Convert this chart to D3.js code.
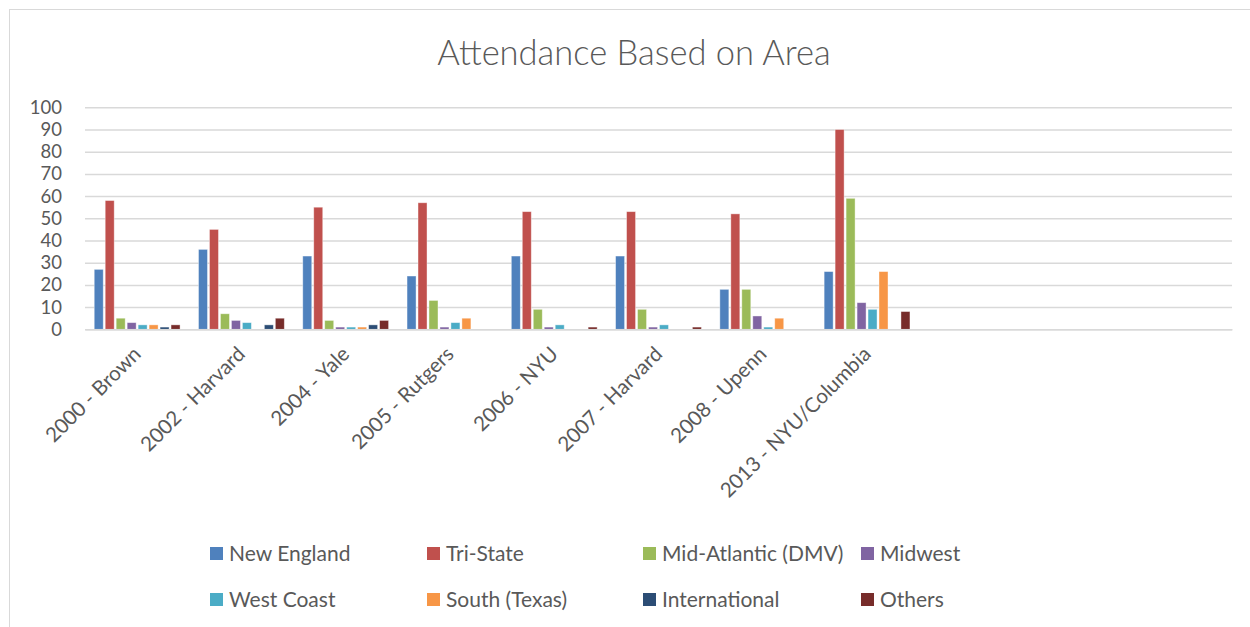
<!DOCTYPE html>
<html><head><meta charset="utf-8">
<script src="https://cdn.jsdelivr.net/npm/d3@7"></script>
<style>body{margin:0;background:#fff}svg{display:block}</style>
</head><body>
<svg id="c" width="1250" height="627"></svg>
<script>
const title = "Attendance Based on Area";
const categories = ["2000 - Brown","2002 - Harvard","2004 - Yale","2005 - Rutgers","2006 - NYU","2007 - Harvard","2008 - Upenn","2013 - NYU/Columbia","","",""];
const seriesNames = ["New England","Tri-State","Mid-Atlantic (DMV)","Midwest","West Coast","South (Texas)","International","Others"];
const seriesColors = ["#4F81BD","#C0504D","#9BBB59","#8064A2","#4BACC6","#F79646","#2C4D75","#772C2A"];
const newEngland  = [27,36,33,24,33,33,18,26];
const triState    = [58,45,55,57,53,53,52,90];
const midAtlantic = [5,7,4,13,9,9,18,59];
const midwest     = [3,4,1,1,1,1,6,12];
const westCoast   = [2,3,1,3,2,2,1,9];
const south       = [2,0,1,5,0,0,5,26];
const international = [1,2,2,0,0,0,0,0];
const others      = [2,5,4,0,1,1,0,8];
const seriesValues = [newEngland,triState,midAtlantic,midwest,westCoast,south,international,others];
const yTicks = [0,10,20,30,40,50,60,70,80,90,100];

const svg = d3.select("#c");
const font = "Lato, 'Open Sans', sans-serif";
const txt = "#595959";

// chart border
svg.append("rect").attr("x",9.5).attr("y",9.5).attr("width",1300).attr("height",700)
  .attr("fill","none").attr("stroke","#d9d9d9").attr("stroke-width",1);

const L = 85, R = 1232, T = 107.3, B = 329.3;
const x0 = d3.scaleBand().domain(d3.range(categories.length)).range([L,R]).paddingInner(0).paddingOuter(0);
const groupFrac = 8/9.5;
const x1 = d3.scaleBand().domain(d3.range(seriesNames.length))
  .range([0, x0.bandwidth()*groupFrac]).paddingInner(0.18).paddingOuter(0.09);
const y = d3.scaleLinear().domain([0,100]).range([B,T]);

// gridlines
const yAxis = d3.axisLeft(y).tickValues(yTicks).tickSize(-(R-L)).tickFormat(d3.format("d"));
const gy = svg.append("g").attr("transform",`translate(${L},0)`).call(yAxis);
gy.select(".domain").remove();
gy.selectAll(".tick line").attr("stroke","#d9d9d9").attr("stroke-width",1.5);
gy.selectAll(".tick text").attr("x",-23).attr("fill",txt)
  .style("font-family",font).style("font-size","18.5px");

// bars
const groupOffset = x0.bandwidth()*(1-groupFrac)/2;
const gBars = svg.append("g");
seriesValues.forEach((vals,si)=>{
  gBars.selectAll(null).data(vals).enter().append("rect")
    .attr("x",(d,i)=>x0(i)+groupOffset+x1(si))
    .attr("width",x1.bandwidth())
    .attr("y",d=>y(d))
    .attr("height",d=>B-y(d))
    .attr("fill",seriesColors[si])
    .attr("stroke","#ffffff").attr("stroke-opacity",0.5).attr("stroke-width",0.8);
});

// x axis labels
const xAxis = d3.axisBottom(x0).tickSize(0).tickFormat(i=>categories[i]);
const gx = svg.append("g").attr("transform",`translate(0,${B})`).call(xAxis);
gx.select(".domain").attr("stroke","#d9d9d9").attr("stroke-width",1.5);
gx.selectAll(".tick text")
  .attr("fill",txt).style("font-family",font).style("font-size","20.5px")
  .attr("text-anchor","end").attr("dy","0.35em")
  .attr("transform","translate(0,21) rotate(-45)").attr("y",0).attr("x",0);

// title
svg.append("text").attr("x",634).attr("y",65).attr("text-anchor","middle")
  .attr("fill",txt).style("font-family",font).style("font-size","34.5px").style("font-weight",300)
  .text(title);

// legend
const legX = [210,427,643,861], legY = [554,600];
const leg = svg.append("g");
seriesNames.forEach((n,i)=>{
  const cx = legX[i%4], cy = legY[Math.floor(i/4)];
  leg.append("rect").attr("x",cx).attr("y",cy-7).attr("width",13).attr("height",13).attr("fill",seriesColors[i]);
  leg.append("text").attr("x",cx+19).attr("y",cy).attr("dy","0.35em")
    .attr("fill",txt).style("font-family",font).style("font-size","21px").text(n);
});
</script>
</body></html>
